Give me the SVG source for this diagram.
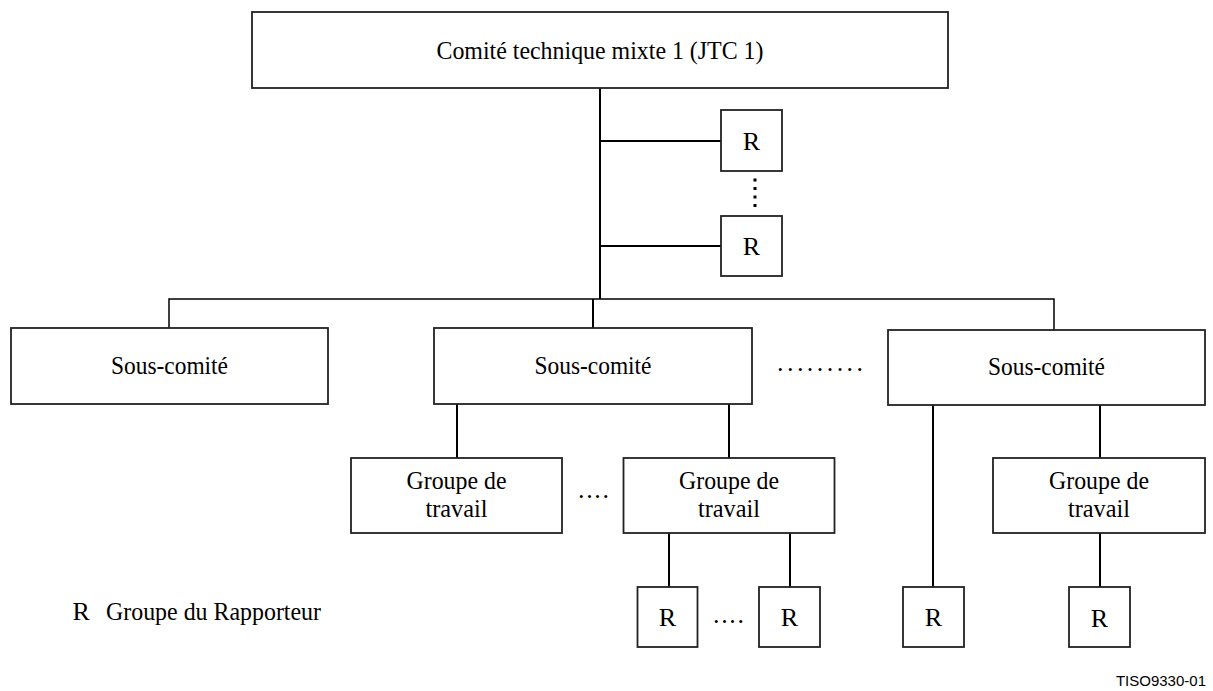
<svg xmlns="http://www.w3.org/2000/svg" width="1213" height="691" viewBox="0 0 1213 691">
<style>
.box{fill:#fff;stroke:#222;stroke-width:1.8}
.t{font-family:"Liberation Serif","Times New Roman",serif;font-size:26px;fill:#000;text-anchor:middle}
.tl{font-family:"Liberation Serif","Times New Roman",serif;font-size:26px;fill:#000}
.ln{stroke:#000;stroke-width:2;fill:none}
.ln1{stroke:#000;stroke-width:1.5;fill:none}
</style>
<rect width="1213" height="691" fill="#fff"/>
<g id="connectors">
<line class="ln" x1="600" y1="88" x2="600" y2="299"/>
<line class="ln" x1="600" y1="141" x2="721" y2="141"/>
<line class="ln" x1="600" y1="246" x2="721" y2="246"/>
<line x1="755" y1="178.5" x2="755" y2="208" stroke="#000" stroke-width="3" stroke-dasharray="3 5.5"/>
<polyline class="ln1" points="169,328 169,299 1054,299 1054,330"/>
<line class="ln" x1="593" y1="299" x2="593" y2="328"/>
<line class="ln" x1="457" y1="404" x2="457" y2="458"/>
<line class="ln" x1="729" y1="404" x2="729" y2="458"/>
<line class="ln" x1="933" y1="405" x2="933" y2="587"/>
<line class="ln" x1="1100" y1="405" x2="1100" y2="458"/>
<line class="ln" x1="669" y1="533" x2="669" y2="587"/>
<line class="ln" x1="790" y1="533" x2="790" y2="587"/>
<line class="ln" x1="1100" y1="533" x2="1100" y2="587"/>
</g>
<g id="jtc1">
<rect class="box" x="252" y="12" width="696" height="76"/>
<text class="t" x="600" y="59" textLength="327" lengthAdjust="spacingAndGlyphs">Comité technique mixte 1 (JTC 1)</text>
</g>
<g id="r-top-1">
<rect class="box" x="721" y="110" width="61" height="61"/>
<text class="t" x="751.5" y="150">R</text>
</g>
<g id="r-top-2">
<rect class="box" x="721" y="216" width="61" height="60"/>
<text class="t" x="751.5" y="255">R</text>
</g>
<g id="sc1">
<rect class="box" x="11" y="328" width="317" height="76"/>
<text class="t" x="169.5" y="374" textLength="117" lengthAdjust="spacingAndGlyphs">Sous-comité</text>
</g>
<g id="sc2">
<rect class="box" x="434" y="328" width="318" height="76"/>
<text class="t" x="593" y="374" textLength="117" lengthAdjust="spacingAndGlyphs">Sous-comité</text>
</g>
<g id="sc-dots">
<text class="tl" x="777" y="371" textLength="86">.........</text>
</g>
<g id="sc3">
<rect class="box" x="888" y="330" width="317" height="75"/>
<text class="t" x="1046.5" y="375" textLength="117" lengthAdjust="spacingAndGlyphs">Sous-comité</text>
</g>
<g id="gt1">
<rect class="box" x="351" y="458" width="211" height="75"/>
<text class="t" x="456.5" y="489" textLength="100" lengthAdjust="spacingAndGlyphs">Groupe de</text>
<text class="t" x="456.5" y="516.5" textLength="62" lengthAdjust="spacingAndGlyphs">travail</text>
</g>
<g id="gt-dots">
<text class="tl" x="578" y="498" textLength="31">....</text>
</g>
<g id="gt2">
<rect class="box" x="623.5" y="458" width="211" height="75"/>
<text class="t" x="729" y="489" textLength="100" lengthAdjust="spacingAndGlyphs">Groupe de</text>
<text class="t" x="729" y="516.5" textLength="62" lengthAdjust="spacingAndGlyphs">travail</text>
</g>
<g id="gt3">
<rect class="box" x="993" y="458" width="212" height="75"/>
<text class="t" x="1099" y="489" textLength="100" lengthAdjust="spacingAndGlyphs">Groupe de</text>
<text class="t" x="1099" y="516.5" textLength="62" lengthAdjust="spacingAndGlyphs">travail</text>
</g>
<g id="r1">
<rect class="box" x="637.5" y="587" width="60" height="60"/>
<text class="t" x="667.5" y="626">R</text>
</g>
<g id="r-dots">
<text class="tl" x="713" y="623" textLength="31">....</text>
</g>
<g id="r2">
<rect class="box" x="759" y="587" width="61" height="60"/>
<text class="t" x="789.5" y="626">R</text>
</g>
<g id="r3">
<rect class="box" x="903" y="587" width="61" height="60"/>
<text class="t" x="933.5" y="626">R</text>
</g>
<g id="r4">
<rect class="box" x="1069" y="587" width="61" height="60"/>
<text class="t" x="1099.5" y="627">R</text>
</g>
<g id="legend">
<text class="tl" x="72.5" y="620">R</text>
<text class="tl" x="106" y="620" textLength="215" lengthAdjust="spacingAndGlyphs">Groupe du Rapporteur</text>
</g>
<g id="figure-id">
<text x="1206" y="686" font-family="'Liberation Sans',Arial,sans-serif" font-size="15" text-anchor="end" fill="#000">TISO9330-01</text>
</g>
</svg>
